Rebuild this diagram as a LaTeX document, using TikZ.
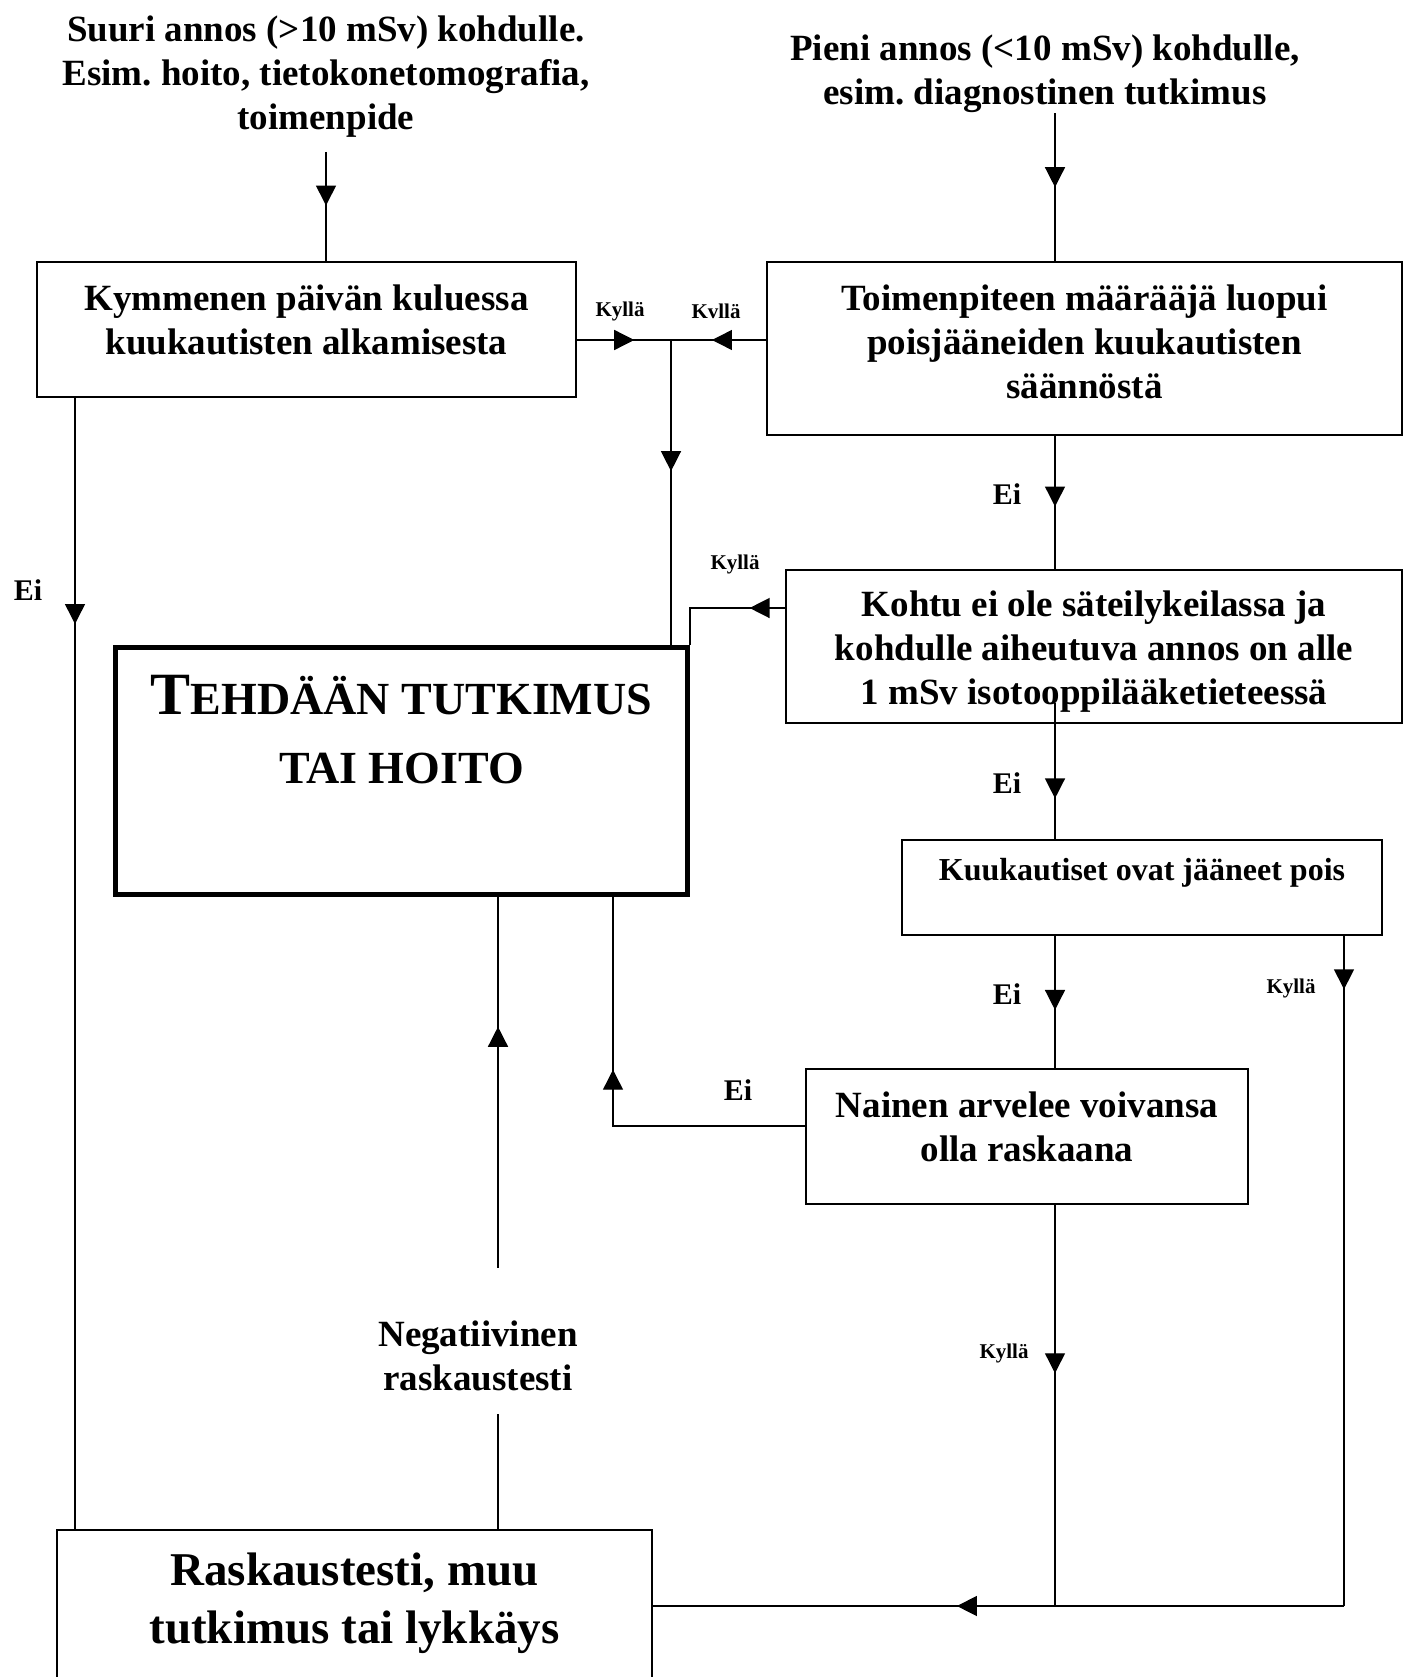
\documentclass[tikz,border=0pt]{standalone}
\usepackage{fontspec}
\setmainfont{Liberation Serif}
\usetikzlibrary{arrows.meta, decorations.markings}
\frenchspacing

\newcommand{\lift}[1]{\rule[-#1]{0pt}{#1}}
\newcommand{\drop}[1]{\rule{0pt}{#1}}

\begin{document}
\begin{tikzpicture}[
    x=1pt, y=-1pt,
    box/.style ={rectangle, draw=black, line width=1.4pt, fill=white, align=center, inner sep=0pt, font=\fontsize{37}{44}\selectfont\bfseries},
    txt/.style ={align=center, inner sep=0pt, font=\fontsize{37}{44}\selectfont\bfseries},
    line/.style ={draw, line width=1.4pt},
    tip/.style ={postaction=decorate, decoration={markings, mark=at position #1 with {\arrow{Triangle[width=20pt,length=20pt]}}}},
    yes/.style ={font=\fontsize{21}{24}\selectfont\bfseries},
    no/.style ={font=\fontsize{30}{34}\selectfont\bfseries},
]
\useasboundingbox (0,0) rectangle (1409,1677);

% Nodes
\node [txt] (high) at (326,77) {Suuri annos (>10~mSv) kohdulle.\\Esim. hoito, tietokonetomografia,\\toimenpide};
\node [txt] (low) at (1045,74) {Pieni annos (<10~mSv) kohdulle,\\esim. diagnostinen tutkimus};
\node [box, minimum width=539pt, minimum height=135pt] (days) at (306.5,329.5) {Kymmenen päivän kuluessa\\kuukautisten alkamisesta\lift{19pt}};
\node [box, minimum width=635pt, minimum height=173pt] (waiver) at (1084.5,348.5) {Toimenpiteen määrääjä luopui\\poisjääneiden kuukautisten\\säännöstä\lift{14pt}};
\node [box, minimum width=616pt, minimum height=153pt] (uterus) at (1094,646.5) {\drop{35pt}Kohtu ei ole säteilykeilassa ja\\kohdulle aiheutuva annos on alle\\1~mSv isotooppilääketieteessä};
\node [box, minimum width=480pt, minimum height=95pt, font=\fontsize{32}{38}\selectfont\bfseries] (missed) at (1142,887.5) {Kuukautiset ovat jääneet pois\lift{37pt}};
\node [box, minimum width=442pt, minimum height=135pt] (suspect) at (1027,1136.5) {Nainen arvelee voivansa\\olla raskaana\lift{20pt}};
\node [box, line width=5pt, minimum width=572pt, minimum height=247pt, font=\fontsize{46}{69}\selectfont\bfseries] (proceed) at (401.5,771) {{\fontsize{60}{69}\selectfont T}EHDÄÄN TUTKIMUS\\TAI HOITO\lift{84pt}};
\node [box, minimum width=595pt, minimum height=170pt, font=\fontsize{47}{58}\selectfont\bfseries] (test) at (354.5,1615) {Raskaustesti, muu\\tutkimus tai lykkäys\lift{34pt}};
\node [txt, minimum height=146pt] (negative) at (478,1341) {\drop{55pt}Negatiivinen\\raskaustesti};

% Bends
\coordinate (join) at (671,340);
\coordinate (spine) at (1055,0);
\coordinate (left) at (75,0);
\coordinate (mid) at (498,0);
\coordinate (bend1) at (690,608);
\coordinate (inside) at (1055,703);
\coordinate (bend2) at (613,1126);
\coordinate (corner) at (1344,1606);

% Lines
\path [line, tip=0.49] ([yshift=-14pt]high.south) -- (high.south |- days.north);
\path [line, tip=0.5] (low.south -| spine) -- (spine |- waiver.north);
\path [line, tip=0.61] (days.east |- join) -- (join);
\path [line, tip=0.57] (waiver.west |- join) -- (join);
\path [line, tip=0.43] (join) -- (join |- proceed.north);
\path [line, tip=0.53] (spine |- waiver.south) -- (spine |- uterus.north);
\path [line, tip=0.27] (bend1 -| uterus.west) -- (bend1) -- (proceed.north east);
\path [line, tip=0.70] (inside) -- (spine |- missed.north);
\path [line, tip=0.56] (spine |- missed.south) -- (spine |- suspect.north);
\path [line, tip=0.08] (corner |- missed.south) -- (corner);
\path [line, tip=0.56] (corner) -- (corner -| test.east);
\path [line, tip=0.42] (spine |- suspect.south) -- (spine |- corner);
\path [line, tip=0.59] (bend2 -| suspect.west) -- (bend2) -- (bend2 |- proceed.south);
\path [line, tip=0.20] (left |- days.south) -- (left |- test.north);
\path [line] (mid |- test.north) -- (mid |- negative.south);
\path [line, tip=0.65] (mid |- negative.north) -- (mid |- proceed.south);

% Labels
\node [yes] (y1) at (620,311) {Kyllä};
\node [yes] (y2) at (716,311) {Kvllä};
\node [yes] (y3) at (735,564) {Kyllä};
\node [yes] (y4) at (1291,988) {Kyllä};
\node [yes] (y5) at (1004,1353) {Kyllä};
\node [no] (n1) at (28,590) {Ei};
\node [no] (n2) at (1007,494) {Ei};
\node [no] (n3) at (1007,783) {Ei};
\node [no] (n4) at (1007,994) {Ei};
\node [no] (n5) at (738,1090) {Ei};

\end{tikzpicture}
\end{document}
